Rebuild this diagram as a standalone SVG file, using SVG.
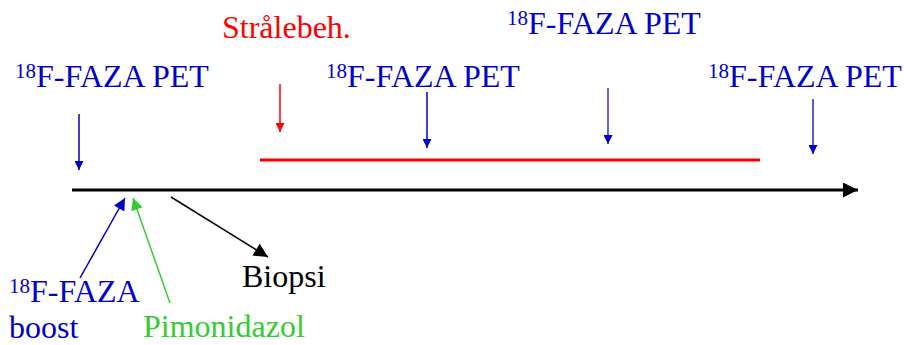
<svg xmlns="http://www.w3.org/2000/svg" width="904" height="345" viewBox="0 0 904 345">
  <style>
    text { font-family: "Liberation Serif", "Times New Roman", serif; font-size: 32px; }
    .sup { font-size: 21px; }
    .blue { fill: #0000cc; }
    .red { fill: #ff0000; }
    .green { fill: #33cc33; }
    .black { fill: #000000; }
    .ln { fill: none; stroke-width: 1.5; }
  </style>
  <defs>
    <marker id="hBlue" markerUnits="userSpaceOnUse" viewBox="0 0 10 10" refX="10" refY="5" markerWidth="9" markerHeight="9" orient="auto">
      <path d="M0,0 L10,5 L0,10 Z" fill="#0000cc"/>
    </marker>
    <marker id="hRed" markerUnits="userSpaceOnUse" viewBox="0 0 10 10" refX="10" refY="5" markerWidth="9" markerHeight="9" orient="auto">
      <path d="M0,0 L10,5 L0,10 Z" fill="#ff0000"/>
    </marker>
    <marker id="hGreen" markerUnits="userSpaceOnUse" viewBox="0 0 10 10" refX="10" refY="5" markerWidth="13" markerHeight="12" orient="auto">
      <path d="M0,0 L10,5 L0,10 Z" fill="#33cc33"/>
    </marker>
    <marker id="hBlueL" markerUnits="userSpaceOnUse" viewBox="0 0 10 10" refX="10" refY="5" markerWidth="13" markerHeight="12" orient="auto">
      <path d="M0,0 L10,5 L0,10 Z" fill="#0000cc"/>
    </marker>
    <marker id="hBlack" markerUnits="userSpaceOnUse" viewBox="0 0 10 10" refX="10" refY="5" markerWidth="15" markerHeight="14" orient="auto">
      <path d="M0,0 L10,5 L0,10 Z" fill="#000000"/>
    </marker>
    <marker id="hAxis" markerUnits="userSpaceOnUse" viewBox="0 0 10 10" refX="10" refY="5" markerWidth="16" markerHeight="15" orient="auto">
      <path d="M0,0 L10,5 L0,10 Z" fill="#000000"/>
    </marker>
  </defs>

  <!-- timeline and treatment period -->
  <g id="connectors">
    <line x1="72" y1="190" x2="858" y2="190" stroke="#000" stroke-width="3" marker-end="url(#hAxis)"/>
    <line x1="260" y1="160" x2="760" y2="160" stroke="#ff0000" stroke-width="3"/>

    <line class="ln" x1="79" y1="114" x2="79" y2="170" stroke="#0000cc" marker-end="url(#hBlue)"/>
    <line class="ln" x1="280" y1="84" x2="280" y2="132" stroke="#ff0000" marker-end="url(#hRed)"/>
    <line class="ln" x1="427" y1="92" x2="427" y2="148" stroke="#0000cc" marker-end="url(#hBlue)"/>
    <line class="ln" x1="608" y1="88" x2="608" y2="144" stroke="#3333cc" marker-end="url(#hBlue)"/>
    <line class="ln" x1="813" y1="99" x2="813" y2="154" stroke="#2222cc" marker-end="url(#hBlue)"/>

    <line class="ln" x1="80" y1="278" x2="125" y2="198" stroke="#0000cc" stroke-width="2" marker-end="url(#hBlueL)"/>
    <line class="ln" x1="170" y1="303" x2="133" y2="198" stroke="#33cc33" stroke-width="2" marker-end="url(#hGreen)"/>
    <line class="ln" x1="171" y1="197" x2="268" y2="257" stroke="#000" stroke-width="2" marker-end="url(#hBlack)"/>
  </g>

  <g id="pet1"><text x="15" y="87" class="blue"><tspan class="sup" dy="-9">18</tspan><tspan dy="9">F-FAZA PET</tspan></text></g>
  <g id="straalebeh"><text x="222" y="38" class="red">Strålebeh.</text></g>
  <g id="pet2"><text x="326" y="87" class="blue"><tspan class="sup" dy="-9">18</tspan><tspan dy="9">F-FAZA PET</tspan></text></g>
  <g id="pet3"><text x="507" y="34" class="blue"><tspan class="sup" dy="-9">18</tspan><tspan dy="9">F-FAZA PET</tspan></text></g>
  <g id="pet4"><text x="708" y="87" class="blue"><tspan class="sup" dy="-9">18</tspan><tspan dy="9">F-FAZA PET</tspan></text></g>
  <g id="faza-boost">
    <text x="9" y="302" class="blue"><tspan class="sup" dy="-9">18</tspan><tspan dy="9">F-FAZA</tspan></text>
    <text x="9" y="338" class="blue">boost</text>
  </g>
  <g id="pimonidazol"><text x="143" y="337" class="green">Pimonidazol</text></g>
  <g id="biopsi"><text x="242" y="287" class="black">Biopsi</text></g>
</svg>
